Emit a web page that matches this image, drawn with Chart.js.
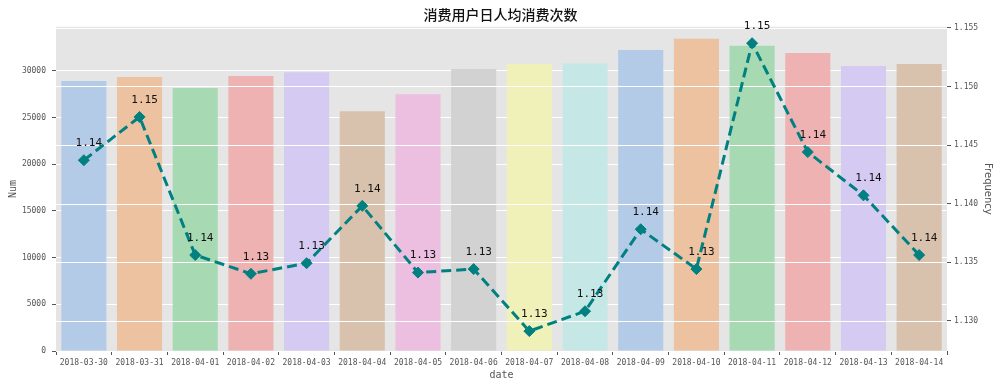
<!DOCTYPE html>
<html>
<head>
<meta charset="utf-8">
<script src="https://cdn.jsdelivr.net/npm/chart.js@4"></script>
<style>
  html, body { margin: 0; padding: 0; background: #fff; }
</style>
</head>
<body>
<canvas id="chart" width="1001" height="388"></canvas>
<script>
const dates = [
  "2018-03-30", "2018-03-31", "2018-04-01", "2018-04-02", "2018-04-03", "2018-04-04",
  "2018-04-05", "2018-04-06", "2018-04-07", "2018-04-08", "2018-04-09", "2018-04-10",
  "2018-04-11", "2018-04-12", "2018-04-13", "2018-04-14",
];
const userNum = [
  28890, 29320, 28140, 29430, 29830, 25670, 27490, 30180,
  30720, 30800, 32230, 33410, 32660, 31900, 30500, 30720,
];
const freq = [
  1.1437, 1.1474, 1.1356, 1.134, 1.1349, 1.1398, 1.1341, 1.1344,
  1.1291, 1.1308, 1.1378, 1.1344, 1.1537, 1.1444, 1.1407, 1.1356,
];
const barColors = [
  "#b4cbe8", "#ecc2a0", "#a7dab3", "#eeb2b2", "#d4caf2",
  "#d8c2ad", "#ecbee0", "#d2d2d2", "#f0f0b9", "#c5e8e6",
];
const numTicks = [0, 5000, 10000, 15000, 20000, 25000, 30000];
const freqTicks = [1.13, 1.135, 1.14, 1.145, 1.15, 1.155];
const numRange = [0, 34700];
const freqRange = [1.1274, 1.1551];

const mono = "'DejaVu Sans Mono', monospace";
const teal = "#008080";

// gray panel behind the plot, ggplot style
const plotBg = {
  id: "plotBg",
  beforeDraw(chart) {
    const { ctx, chartArea: a } = chart;
    ctx.save();
    ctx.fillStyle = "#e5e5e5";
    ctx.fillRect(a.left, a.top, a.right - a.left, a.bottom - a.top);
    ctx.restore();
  },
};

// right axis grid sits above the bars but under the line
const rightGrid = {
  id: "rightGrid",
  afterDatasetDraw(chart, args) {
    if (args.index !== 0) return;
    const { ctx, chartArea: a } = chart;
    const scale = chart.scales.y1;
    ctx.save();
    ctx.strokeStyle = "#ffffff";
    ctx.lineWidth = 1;
    scale.ticks.forEach((t) => {
      const y = Math.round(scale.getPixelForValue(t.value)) + 0.5;
      ctx.beginPath();
      ctx.moveTo(a.left, y);
      ctx.lineTo(a.right, y);
      ctx.stroke();
    });
    ctx.restore();
  },
};

const pointLabels = {
  id: "pointLabels",
  afterDatasetsDraw(chart) {
    const { ctx } = chart;
    const meta = chart.getDatasetMeta(1);
    ctx.save();
    ctx.font = "11px " + mono;
    ctx.fillStyle = "#111";
    ctx.textAlign = "center";
    ctx.textBaseline = "middle";
    meta.data.forEach((pt, i) => {
      ctx.fillText(freq[i].toFixed(2), pt.x + 5, pt.y - 17);
    });
    ctx.restore();
  },
};

const ctx = document.getElementById("chart").getContext("2d");
const chart = new Chart(ctx, {
  data: {
    labels: dates,
    datasets: [
      {
        type: "bar",
        label: "Num",
        data: userNum,
        yAxisID: "y",
        order: 2,
        backgroundColor: dates.map((d, i) => barColors[i % barColors.length]),
        borderWidth: 0,
        barPercentage: 0.81,
        categoryPercentage: 1.0,
      },
      {
        type: "line",
        label: "Frequency",
        data: freq,
        yAxisID: "y1",
        order: 1,
        borderColor: teal,
        borderWidth: 3,
        borderDash: [10, 5],
        backgroundColor: teal,
        pointStyle: "rectRot",
        pointRadius: 5.5,
        pointBorderWidth: 1,
        pointBorderColor: teal,
        pointBackgroundColor: teal,
        tension: 0,
      },
    ],
  },
  options: {
    responsive: false,
    devicePixelRatio: 1,
    animation: false,
    layout: { padding: 0 },
    plugins: {
      legend: { display: false },
      tooltip: { enabled: false },
      title: {
        display: true,
        text: "消费用户日人均消费次数",
        color: "#111",
        font: { family: "'Noto Sans CJK SC'", size: 14, weight: "500" },
        padding: { top: 6, bottom: 4 },
      },
    },
    scales: {
      x: {
        type: "category",
        offset: true,
        afterFit: (s) => { s.height = 37; },
        grid: {
          drawOnChartArea: false,
          drawTicks: true,
          tickLength: 4,
          tickColor: "#555",
        },
        border: { display: false },
        ticks: {
          color: "#555",
          font: { family: mono, size: 8 },
          padding: 3,
          maxRotation: 0,
          autoSkip: false,
        },
        title: {
          display: true,
          text: "date",
          color: "#555",
          font: { family: mono, size: 10 },
          padding: { top: 0, bottom: 7 },
        },
      },
      y: {
        position: "left",
        min: numRange[0],
        max: numRange[1],
        afterBuildTicks: (s) => { s.ticks = numTicks.map((v) => ({ value: v })); },
        afterFit: (s) => { s.width = 56; },
        grid: {
          color: "#ffffff",
          lineWidth: 1,
          tickLength: 4,
          tickColor: "#555",
        },
        border: { display: false },
        ticks: {
          color: "#555",
          font: { family: mono, size: 8 },
          padding: 6,
          callback: (v) => String(v),
        },
        title: {
          display: true,
          text: "Num",
          color: "#555",
          font: { family: mono, size: 10 },
          padding: { top: 7, bottom: 0 },
        },
      },
      y1: {
        position: "right",
        min: freqRange[0],
        max: freqRange[1],
        afterBuildTicks: (s) => { s.ticks = freqTicks.map((v) => ({ value: v })); },
        afterFit: (s) => { s.width = 54; },
        grid: {
          drawOnChartArea: false,
          tickLength: 4,
          tickColor: "#555",
        },
        border: { display: false },
        ticks: {
          color: "#555",
          font: { family: mono, size: 8 },
          padding: 3,
          callback: (v) => Number(v).toFixed(3),
        },
        title: {
          display: true,
          text: "Frequency",
          color: "#555",
          font: { family: "'DejaVu Sans', sans-serif", size: 10 },
          padding: { top: 7, bottom: 0 },
        },
      },
    },
  },
  plugins: [plotBg, rightGrid, pointLabels],
});
</script>
</body>
</html>
